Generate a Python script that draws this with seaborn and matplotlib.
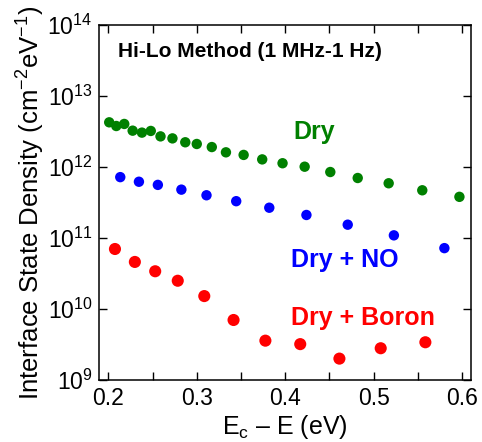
import matplotlib
matplotlib.use("Agg")
import matplotlib.pyplot as plt
import seaborn as sns
import pandas as pd
from matplotlib.ticker import LogLocator, LogFormatterMathtext, MultipleLocator, NullLocator

# Dry oxidation
dry_e = [0.201, 0.209, 0.218, 0.2275, 0.238, 0.248, 0.259, 0.2725, 0.287, 0.300, 0.317,
         0.333, 0.353, 0.374, 0.397, 0.422, 0.451, 0.482, 0.517, 0.555, 0.597]
dry_dit = [4.26e12, 3.78e12, 4.04e12, 3.25e12, 3.05e12, 3.22e12, 2.70e12, 2.53e12, 2.23e12,
           2.11e12, 1.91e12, 1.61e12, 1.48e12, 1.28e12, 1.13e12, 1.01e12, 8.5e11, 7.0e11,
           5.9e11, 4.7e11, 3.8e11]

# Dry + NO anneal
no_e = [0.2135, 0.2346, 0.256, 0.2826, 0.311, 0.3446, 0.382, 0.424, 0.4707, 0.5229, 0.580]
no_dit = [7.2e11, 6.2e11, 5.6e11, 4.8e11, 4.0e11, 3.3e11, 2.67e11, 2.11e11, 1.54e11, 1.09e11, 7.2e10]

# Dry + Boron
boron_e = [0.2075, 0.230, 0.253, 0.2785, 0.3085, 0.3416, 0.3776, 0.417, 0.4613, 0.508, 0.5585]
boron_dit = [7.0e10, 4.6e10, 3.4e10, 2.5e10, 1.52e10, 7.0e9, 3.58e9, 3.2e9, 2.0e9, 2.8e9, 3.4e9]

sns.set_style("ticks")
plt.rcParams["font.family"] = ["Liberation Sans", "DejaVu Sans"]
plt.rcParams["mathtext.fontset"] = "custom"
plt.rcParams["mathtext.rm"] = "Liberation Sans"
plt.rcParams["mathtext.it"] = "Liberation Sans:italic"
plt.rcParams["mathtext.default"] = "regular"
for key in ["axes.edgecolor", "axes.labelcolor", "text.color", "xtick.color", "ytick.color"]:
    plt.rcParams[key] = "black"

df = pd.concat([
    pd.DataFrame({"E": dry_e, "Dit": dry_dit, "sample": "Dry"}),
    pd.DataFrame({"E": no_e, "Dit": no_dit, "sample": "Dry + NO"}),
    pd.DataFrame({"E": boron_e, "Dit": boron_dit, "sample": "Dry + Boron"}),
])

colors = {"Dry": "#008000", "Dry + NO": "#0000ff", "Dry + Boron": "#ff0000"}
sizes = {"Dry": 56, "Dry + NO": 56, "Dry + Boron": 76}

fig = plt.figure(figsize=(4.82, 4.42), dpi=100)
ax = fig.add_axes([0.2064, 0.1403, 0.7706, 0.8031])

for name, grp in df.groupby("sample", sort=False):
    sns.scatterplot(data=grp, x="E", y="Dit", color=colors[name], s=sizes[name],
                    edgecolor="none", ax=ax, legend=False)

ax.set_yscale("log")
ax.set_xlim(0.19, 0.61)
ax.set_ylim(1e9, 1e14)
ax.xaxis.set_major_locator(MultipleLocator(0.1))
ax.xaxis.set_minor_locator(MultipleLocator(0.05))
ax.yaxis.set_major_locator(LogLocator(base=10, numticks=10))
ax.yaxis.set_major_formatter(LogFormatterMathtext())
ax.yaxis.set_minor_locator(NullLocator())
ax.tick_params(which="both", direction="in", top=True, right=True, width=1,
               length=6, labelsize=16.5)
ax.tick_params(axis="x", which="major", pad=5)
ax.tick_params(axis="y", which="major", pad=5)
for sp in ax.spines.values():
    sp.set_linewidth(1.1)

ax.set_xlabel("E$_c$ – E (eV)", fontsize=18, labelpad=2)
ax.set_ylabel("Interface State Density (cm$^{-2}$eV$^{-1}$)", fontsize=18.5, labelpad=0)

ax.text(0.05, 0.924, "Hi-Lo Method (1 MHz-1 Hz)", transform=ax.transAxes,
        fontsize=15, fontweight="bold", ha="left", va="center")
ax.text(0.577, 0.70, "Dry", transform=ax.transAxes, color=colors["Dry"],
        fontsize=18, fontweight="bold", ha="center", va="center")
ax.text(0.66, 0.338, "Dry + NO", transform=ax.transAxes, color=colors["Dry + NO"],
        fontsize=18, fontweight="bold", ha="center", va="center")
ax.text(0.71, 0.175, "Dry + Boron", transform=ax.transAxes, color=colors["Dry + Boron"],
        fontsize=18, fontweight="bold", ha="center", va="center")

fig.savefig("out.png", dpi=100)
